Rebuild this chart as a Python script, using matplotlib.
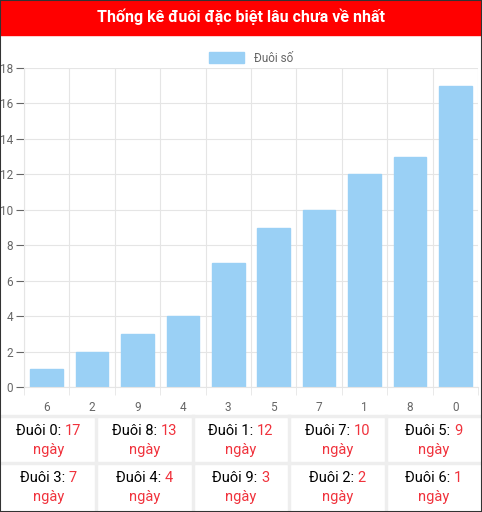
import matplotlib
matplotlib.use("Agg")
import matplotlib.pyplot as plt
from matplotlib.patches import Rectangle

plt.rcParams["font.family"] = ["Roboto", "DejaVu Sans"]

digits = ["6", "2", "9", "4", "3", "5", "7", "1", "8", "0"]
days = [1, 2, 3, 4, 7, 9, 10, 12, 13, 17]
table_digits = ["0", "8", "1", "7", "5", "3", "4", "9", "2", "6"]
table_days = [17, 13, 12, 10, 9, 7, 4, 3, 2, 1]

W, H = 482, 512
RED = "#f0323c"
fig = plt.figure(figsize=(W / 100, H / 100), dpi=100)

def fx(px):
    return px / W

def fy(py):
    return 1 - py / H

# title bar
fig.patches.append(Rectangle((0, fy(35)), 1, 35 / H, transform=fig.transFigure,
                             color="#ff0000", zorder=0))
fig.text(0.5, fy(17), "Thống kê đuôi đặc biệt lâu chưa về nhất", color="white",
         fontsize=11.5, fontweight="bold", ha="center", va="center")

ax = fig.add_axes([fx(24), fy(387), fx(478) - fx(24), fy(68) - fy(387)])
x = range(len(digits))
ax.bar(x, days, width=0.72, color="#9ad0f5", edgecolor="#9ad0f5", label="Đuôi số")
ax.set_xlim(-0.5, len(digits) - 0.5)
ax.set_ylim(0, 18)
ax.set_yticks(range(0, 19, 2))
ax.set_xticks(list(x))
ax.set_xticklabels(digits)
ax.set_xticks([i + 0.5 for i in range(-1, len(digits))], minor=True)
ax.grid(True, which="minor", axis="x", color="#e5e5e5", lw=0.8)
ax.grid(True, which="major", axis="y", color="#e5e5e5", lw=0.8)
ax.tick_params(axis="x", which="major", length=0, pad=10)
ax.tick_params(axis="x", which="minor", length=6, color="#e5e5e5")
ax.tick_params(axis="y", length=6, color="#e5e5e5", pad=2)
ax.tick_params(colors="#666666", labelsize=8.5)
ax.tick_params(axis="x", colors="#666666")
ax.set_axisbelow(True)
for s in ["top", "right"]:
    ax.spines[s].set_visible(False)
for s in ["left", "bottom"]:
    ax.spines[s].set_color("#e5e5e5")
ax.legend(loc="upper center", bbox_to_anchor=(0.5, 1.085), frameon=False,
          fontsize=8.5, labelcolor="#666666", handlelength=3, handleheight=1)

# table
col_w = W / 5
rows_y = [(416, 463), (463, 510)]
for ry in [416, 463]:
    fig.add_artist(plt.Line2D([0, 1], [fy(ry), fy(ry)], color="#eeeeee", lw=2.5))
for c in range(1, 5):
    fig.add_artist(plt.Line2D([fx(c * col_w)] * 2, [fy(416), fy(510)],
                              color="#eeeeee", lw=2.5))

fig.canvas.draw()
r = fig.canvas.get_renderer()
for i, (d, n) in enumerate(zip(table_digits, table_days)):
    row, col = divmod(i, 5)
    cx = (col + 0.5) * col_w
    top, bot = rows_y[row]
    y1 = top + 15
    y2 = top + 34
    t1 = fig.text(0, fy(y1), f"Đuôi {d}: ", fontsize=10.5, color="black", va="center")
    t2 = fig.text(0, fy(y1), str(n), fontsize=10.5, color=RED, va="center")
    w1 = t1.get_window_extent(r).width
    w2 = t2.get_window_extent(r).width
    start = cx - (w1 + w2) / 2
    t1.set_x(fx(start))
    t2.set_x(fx(start + w1))
    fig.text(fx(cx), fy(y2), "ngày", fontsize=10.5, color=RED, ha="center", va="center")

fig.patches.append(Rectangle((0, 0), 1, 1, transform=fig.transFigure, fill=False,
                             edgecolor="#333333", lw=1.5, zorder=10))
fig.savefig("out.png", dpi=100)
